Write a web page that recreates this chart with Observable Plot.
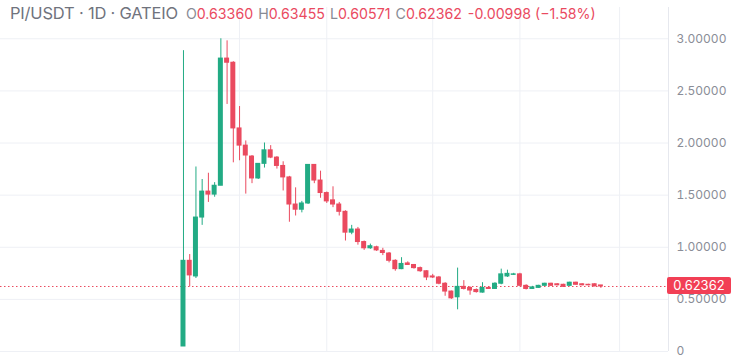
<!DOCTYPE html>
<html>
<head>
<meta charset="utf-8">
<script src="https://cdn.jsdelivr.net/npm/d3@7"></script>
<script src="https://cdn.jsdelivr.net/npm/@observablehq/plot@0.6"></script>
<style>
  html, body { margin: 0; padding: 0; background: #ffffff; }
  #wrap { position: relative; width: 750px; height: 359px; font-family: Inter, "Noto Sans", sans-serif; }
  #title { position: absolute; left: 10px; top: 3px; font-size: 14.2px; color: #6a6d78; white-space: nowrap; }
  #title .name { font-size: 16.5px; color: #70737d; letter-spacing: -0.2px; margin-right: 3px; }
  #title .v { color: #ea4a5f; }
  #title .k { color: #888b95; margin-left: 5px; }
  #price { position: absolute; left: 667px; width: 64px; height: 17px; background: #f23f55; color: #fff; font-size: 13px; line-height: 17px; text-align: center; border-radius: 2px; }
</style>
</head>
<body>
<div id="wrap">
  <div id="chart"></div>
  <div id="title"></div>
  <div id="price"></div>
</div>
<script>
// ---- data (daily candles, PI/USDT, Gate.io, from 2025-02-20) ----
const startDate = "2025-02-20";
const open  = [0.048,0.87,0.72,1.285,1.534,1.505,1.59,2.81,2.77,2.14,1.975,1.87,1.66,1.80,1.93,1.86,1.78,1.67,1.41,1.36,1.42,1.79,1.64,1.52,1.45,1.41,1.34,1.14,1.17,1.05,0.99,1.00,0.965,0.94,0.87,0.79,0.845,0.83,0.80,0.77,0.72,0.71,0.65,0.575,0.52,0.62,0.61,0.59,0.565,0.61,0.60,0.65,0.72,0.735,0.74,0.63,0.60,0.61,0.63,0.65,0.645,0.64,0.63,0.66,0.645,0.64,0.645,0.6336];
const high  = [2.886,0.93,1.77,1.65,1.71,1.62,3.00,2.98,2.78,2.35,2.02,1.88,1.80,2.00,1.975,1.87,1.82,1.68,1.57,1.44,1.79,1.79,1.73,1.53,1.58,1.43,1.35,1.21,1.19,1.06,1.03,1.01,0.99,0.95,0.88,0.90,0.86,0.835,0.81,0.775,0.74,0.72,0.66,0.58,0.80,0.68,0.62,0.60,0.66,0.62,0.66,0.79,0.78,0.75,0.75,0.64,0.625,0.635,0.655,0.655,0.65,0.645,0.665,0.665,0.65,0.645,0.65,0.63455];
const low   = [0.048,0.62,0.70,1.21,1.43,1.48,1.59,2.37,1.81,1.83,1.51,1.61,1.65,1.76,1.85,1.75,1.54,1.24,1.30,1.33,1.41,1.61,1.47,1.42,1.38,1.30,1.06,1.12,1.02,0.97,0.98,0.96,0.92,0.85,0.77,0.785,0.825,0.79,0.76,0.68,0.70,0.64,0.53,0.50,0.40,0.59,0.54,0.56,0.56,0.595,0.595,0.64,0.71,0.73,0.62,0.59,0.595,0.605,0.625,0.625,0.63,0.615,0.625,0.635,0.63,0.63,0.62,0.60571];
const close = [0.87,0.73,1.285,1.534,1.505,1.59,2.81,2.77,2.14,1.975,1.88,1.66,1.80,1.93,1.86,1.78,1.67,1.41,1.36,1.42,1.79,1.64,1.52,1.44,1.41,1.34,1.14,1.17,1.05,0.99,1.01,0.97,0.945,0.87,0.79,0.84,0.83,0.80,0.77,0.71,0.71,0.65,0.575,0.51,0.62,0.60,0.585,0.57,0.61,0.60,0.65,0.74,0.745,0.74,0.63,0.60,0.615,0.63,0.65,0.63,0.635,0.62,0.66,0.64,0.635,0.635,0.625,0.62362];
const yTicks = [0, 0.5, 1.0, 1.5, 2.0, 2.5, 3.0];
const xGridDates = ["2025-03-01","2025-03-15","2025-04-01","2025-04-15","2025-05-01"];
const titleText = "PI/USDT · 1D · GATEIO";
const ohlcLabels = ["O", "H", "L", "C"];
const lastValues = ["0.63360", "0.63455", "0.60571", "0.62362"];
const changeText = "-0.00998 (\u22121.58%)";

const UP = "#22ab84", DOWN = "#ea4a5f";
const DAY = 864e5;
const t0 = new Date(startDate + "T00:00:00Z").getTime();
const candles = open.map((o, i) => ({
  date: new Date(t0 + i * DAY),
  x1: new Date(t0 + (i - 0.4) * DAY),
  x2: new Date(t0 + (i + 0.4) * DAY),
  open: o, high: high[i], low: low[i], close: close[i],
  color: close[i] >= o ? UP : DOWN
}));
const last = close[close.length - 1];
const xDomain = [new Date(t0 - 29.37 * DAY), new Date(t0 + 77.85 * DAY)];

const plot = Plot.plot({
  width: 750,
  height: 359,
  marginLeft: 0,
  marginRight: 82,
  marginTop: 7,
  marginBottom: 8,
  style: { fontFamily: "Inter, 'Noto Sans', sans-serif", background: "#ffffff" },
  x: { type: "utc", domain: xDomain, axis: null },
  y: { domain: [0, 3.3], axis: null },
  marks: [
    Plot.gridY(yTicks, { stroke: "#eef0f5", strokeOpacity: 1 }),
    Plot.gridX(xGridDates.map(d => new Date(d + "T00:00:00Z")), { stroke: "#eef0f5", strokeOpacity: 1 }),
    Plot.ruleX([xDomain[1]], { stroke: "#e6e8ee" }),
    Plot.axisY(yTicks, {
      anchor: "right", tickSize: 0, tickPadding: 8, fontSize: 12, fill: "#8a8d97",
      tickFormat: d => d === 0 ? "0" : d.toFixed(5)
    }),
    Plot.ruleY([last], { stroke: DOWN, strokeDasharray: "1.5,2.5", strokeWidth: 1 }),
    Plot.ruleX(candles, { x: "date", y1: "low", y2: "high", stroke: "color", strokeWidth: 1 }),
    Plot.rect(candles, { x1: "x1", x2: "x2", y1: "open", y2: "close", fill: "color", insetTop: -0.5, insetBottom: -0.5 })
  ]
});
document.getElementById("chart").appendChild(plot);

// title + OHLC readout
const title = document.getElementById("title");
let html = `<span class="name">${titleText}</span>`;
ohlcLabels.forEach((k, i) => {
  html += `<span class="k">${k}</span><span class="v">${lastValues[i]}</span>`;
});
html += `<span class="v" style="margin-left:6px">${changeText}</span>`;
title.innerHTML = html;

// last-price label placed through the y scale
const py = plot.scale("y").apply(last);
const price = document.getElementById("price");
price.textContent = lastValues[3];
price.style.top = (py - 8.5) + "px";
</script>
</body>
</html>
